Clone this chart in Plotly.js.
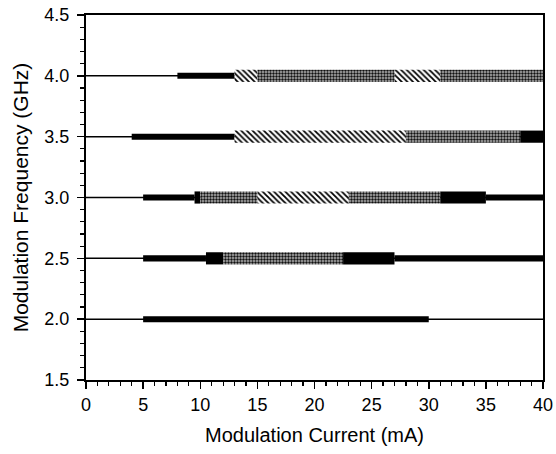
<!DOCTYPE html>
<html>
<head>
<meta charset="utf-8">
<script src="https://cdn.plot.ly/plotly-3.0.1.min.js"></script>
<style>html,body{margin:0;padding:0;background:#fff;}#chart{width:556px;height:454px;}</style>
</head>
<body>
<div id="chart"></div>
<script>
// Modulation frequencies (GHz) – rows of the chart
const freqs = [2.0, 2.5, 3.0, 3.5, 4.0];
const thinStart = [0, 0, 0, 0, 0];
const thinEnd = [40, 40, 40, 40, 40];

// Narrow black segments (mA)
const narrowFreq  = [4.0, 3.5, 3.0, 3.0, 2.5, 2.5, 2.0];
const narrowStart = [8,   4,   5,   35,  5,   27,  5];
const narrowEnd   = [13,  13,  9.5, 40,  10.5, 40, 30];

// Wide solid black segments
const solidFreq  = [3.5, 3.0, 3.0, 2.5, 2.5];
const solidStart = [38,  9.5, 31,  10.5, 22.5];
const solidEnd   = [40,  10,  35,  12,  27];

// Wide hatched segments
const hatchFreq  = [4.0, 4.0, 3.5, 3.0];
const hatchStart = [13,  27,  13,  15];
const hatchEnd   = [15,  31,  28,  23];

// Wide stippled segments
const dotFreq  = [4.0, 4.0, 3.5, 3.0, 3.0, 2.5];
const dotStart = [15,  31,  28,  10,  23,  12];
const dotEnd   = [27,  40,  38,  15,  31,  22.5];

function seg(freq, start, end, width, marker) {
  return {
    type: 'bar', orientation: 'h',
    y: freq, base: start, x: end.map((e, i) => e - start[i]),
    width: width, marker: marker, hoverinfo: 'skip', showlegend: false
  };
}

const data = [
  seg(freqs, thinStart, thinEnd, 0.012, {color: '#000', line: {width: 0}}),
  seg(narrowFreq, narrowStart, narrowEnd, 0.05, {color: '#000', line: {width: 0}}),
  seg(solidFreq, solidStart, solidEnd, 0.1, {color: '#000', line: {width: 0}}),
  seg(hatchFreq, hatchStart, hatchEnd, 0.1, {color: '#fff', line: {width: 0},
      pattern: {shape: '\\', fgcolor: '#000', bgcolor: '#fff', size: 4, solidity: 0.45}}),
  seg(dotFreq, dotStart, dotEnd, 0.1, {color: '#999', line: {width: 0},
      pattern: {shape: '.', fgcolor: '#111', bgcolor: '#b4b4b4', size: 3, solidity: 0.5}})
];

const font = {family: 'Liberation Sans, Arial, sans-serif', color: '#000'};
const layout = {
  width: 556, height: 454,
  margin: {l: 86, r: 13, t: 15, b: 74},
  paper_bgcolor: '#fff', plot_bgcolor: '#fff',
  barmode: 'overlay',
  showlegend: false,
  font: font,
  xaxis: {
    range: [0, 40], dtick: 5, tick0: 0,
    ticks: 'outside', ticklen: 7, tickwidth: 1.5, tickcolor: '#000',
    minor: {dtick: 1, ticks: 'outside', ticklen: 4, tickwidth: 1.2, tickcolor: '#000'},
    showline: true, linewidth: 2, linecolor: '#000', mirror: true,
    showgrid: false, zeroline: false,
    tickfont: {family: font.family, size: 18, color: '#000'},
    title: {text: 'Modulation Current (mA)', font: {family: font.family, size: 20, color: '#000'}, standoff: 14}
  },
  yaxis: {
    range: [1.5, 4.5], dtick: 0.5, tick0: 1.5, tickformat: '.1f',
    ticks: 'outside', ticklen: 7, tickwidth: 1.5, tickcolor: '#000',
    minor: {dtick: 0.1, ticks: 'outside', ticklen: 4, tickwidth: 1.2, tickcolor: '#000'},
    showline: true, linewidth: 2, linecolor: '#000', mirror: true,
    showgrid: false, zeroline: false,
    ticklabelstandoff: 4,
    tickfont: {family: font.family, size: 18, color: '#000'},
    title: {text: 'Modulation Frequency (GHz)', font: {family: font.family, size: 21, color: '#000'}, standoff: 10}
  }
};

Plotly.newPlot('chart', data, layout, {displayModeBar: false, staticPlot: true});
</script>
</body>
</html>
